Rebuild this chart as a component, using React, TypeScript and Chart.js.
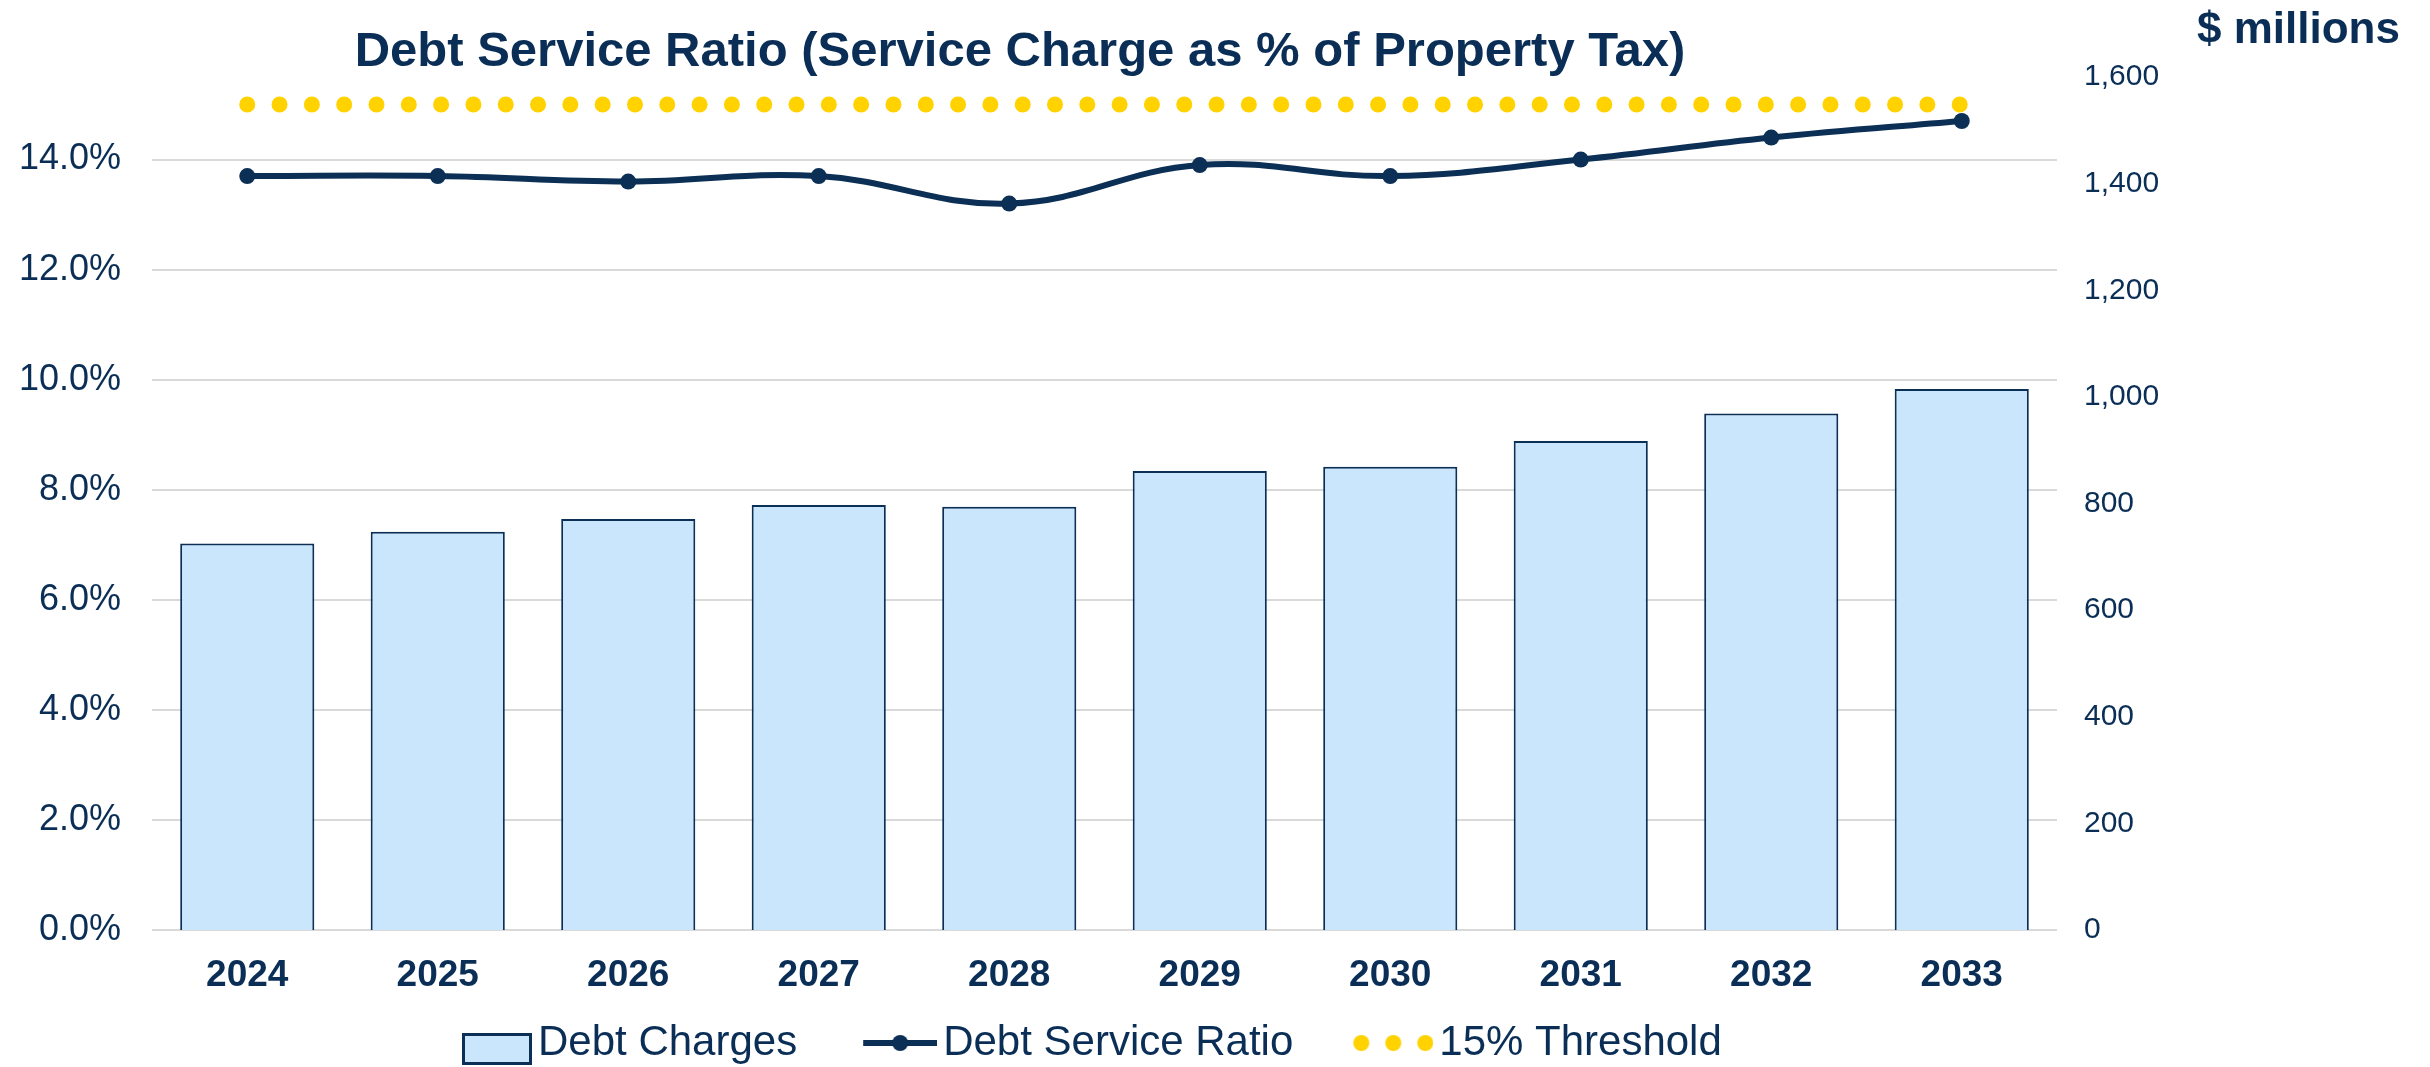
import React, { useEffect, useRef } from 'react';
import { Chart, registerables } from 'chart.js';

Chart.register(...registerables);

// ---------- data ----------
const years = ['2024', '2025', '2026', '2027', '2028', '2029', '2030', '2031', '2032', '2033'];
const debtCharges = [725, 747, 771, 797, 794, 861, 869, 917, 969, 1015];
const debtServiceRatio = [13.7, 13.7, 13.6, 13.7, 13.2, 13.9, 13.7, 14.0, 14.4, 14.7];
const thresholdValues = [15, 15, 15, 15, 15, 15, 15, 15, 15, 15];
const seriesNames = ['Debt Charges', 'Debt Service Ratio', '15% Threshold'];
const titleText = 'Debt Service Ratio (Service Charge as % of Property Tax)';
const rightAxisTitle = '$ millions';
const leftAxisRange = [0, 15.5];
const leftAxisStep = 2;
const rightAxisRange = [0, 1600];
const rightAxisStep = 200;

// ---------- styles ----------
const W = 2430;
const H = 1067;
const FONT = '"Liberation Sans", Arial, Helvetica, sans-serif';
const NAVY = '#0B2F55';
const TEXT = '#0A2E56';
const BAR_FILL = '#C9E6FD';
const GOLD = '#FFD200';
const GRID = '#D9D9D9';

const LEGEND_FONT = 42;
const LEGEND_PAD = 10;
const LEGEND_BOX_W = 115;
const LEGEND_FIRST_TEXT_X = 538;
const LEGEND_TEXT_Y = 1043;
const TITLE_CENTER_X = 1020;

function makeSwatch(kind: string): HTMLCanvasElement {
  const c = document.createElement('canvas');
  const iw = LEGEND_BOX_W + 30;
  c.width = iw;
  c.height = 60;
  const ctx = c.getContext('2d') as CanvasRenderingContext2D;
  if (kind === 'bar') {
    ctx.fillStyle = BAR_FILL;
    ctx.fillRect(iw - 70, 20, 70, 32);
    ctx.strokeStyle = NAVY;
    ctx.lineWidth = 3;
    ctx.strokeRect(iw - 70 + 1.5, 21.5, 67, 29);
  } else if (kind === 'line') {
    ctx.strokeStyle = NAVY;
    ctx.lineWidth = 6;
    ctx.beginPath();
    ctx.moveTo(iw - 74, 30);
    ctx.lineTo(iw, 30);
    ctx.stroke();
    ctx.fillStyle = NAVY;
    ctx.beginPath();
    ctx.arc(iw - 37, 30, 8, 0, Math.PI * 2);
    ctx.fill();
  } else {
    ctx.fillStyle = GOLD;
    for (let i = 0; i < 3; i++) {
      ctx.beginPath();
      ctx.arc(iw - 8 - i * 32, 30, 8, 0, Math.PI * 2);
      ctx.fill();
    }
  }
  return c;
}

const layoutTweaks = {
  id: 'layoutTweaks',
  afterLayout(chart: any) {
    const t = chart.titleBlock;
    if (t) {
      t.left = 0;
      t.right = TITLE_CENTER_X * 2;
      t.width = t.right - t.left;
    }
    const lg = chart.legend;
    if (lg && lg.lineWidths) {
      const cursorX = LEGEND_FIRST_TEXT_X - LEGEND_BOX_W - LEGEND_FONT / 2;
      const lw = lg.lineWidths[0];
      lg.left = 0;
      lg.right = 2 * cursorX - LEGEND_PAD + lw;
      const dy = LEGEND_TEXT_Y - (lg.top + LEGEND_PAD + LEGEND_FONT / 2);
      lg.top += dy;
      lg.bottom += dy;
    }
  },
  afterDraw(chart: any) {
    const ctx = chart.ctx as CanvasRenderingContext2D;
    ctx.save();
    ctx.font = `bold 44px ${FONT}`;
    ctx.fillStyle = TEXT;
    ctx.textAlign = 'left';
    ctx.textBaseline = 'middle';
    ctx.fillText(rightAxisTitle, 2197, 31);
    ctx.restore();
  },
};

export default function App() {
  const ref = useRef<HTMLCanvasElement | null>(null);

  useEffect(() => {
    document.body.style.margin = '0';
    const canvas = ref.current;
    if (!canvas) return;
    const swatches = [makeSwatch('bar'), makeSwatch('line'), makeSwatch('dots')];

    const chart = new Chart(canvas, {
      type: 'bar',
      data: {
        labels: years,
        datasets: [
          {
            type: 'bar',
            label: seriesNames[0],
            data: debtCharges,
            yAxisID: 'y1',
            backgroundColor: BAR_FILL,
            borderColor: NAVY,
            borderWidth: 2,
            barPercentage: 0.704,
            categoryPercentage: 1,
            order: 3,
          } as any,
          {
            type: 'line',
            label: seriesNames[1],
            data: debtServiceRatio,
            yAxisID: 'y',
            borderColor: NAVY,
            backgroundColor: NAVY,
            borderWidth: 6,
            pointRadius: 8,
            pointBorderWidth: 0,
            pointBackgroundColor: NAVY,
            tension: 0.4,
            order: 1,
          } as any,
          {
            type: 'line',
            label: seriesNames[2],
            data: thresholdValues,
            yAxisID: 'y',
            borderColor: GOLD,
            borderWidth: 16,
            borderDash: [0.01, 32.3],
            borderCapStyle: 'round',
            pointRadius: 0,
            tension: 0,
            order: 2,
          } as any,
        ],
      },
      options: {
        responsive: false,
        animation: false,
        devicePixelRatio: 1,
        events: [],
        layout: { padding: 0 },
        plugins: {
          tooltip: { enabled: false },
          title: {
            display: true,
            text: titleText,
            color: TEXT,
            font: { family: FONT, size: 49, weight: 'bold', lineHeight: 1 },
            padding: { top: 27.5, bottom: 0.5 },
          },
          legend: {
            display: true,
            position: 'bottom',
            labels: {
              color: TEXT,
              font: { family: FONT, size: LEGEND_FONT },
              padding: LEGEND_PAD,
              usePointStyle: true,
              pointStyleWidth: LEGEND_BOX_W,
              generateLabels: () =>
                seriesNames.map((name, i) => ({
                  text: name,
                  pointStyle: swatches[i],
                  fillStyle: 'rgba(0,0,0,0)',
                  strokeStyle: 'rgba(0,0,0,0)',
                  lineWidth: 0,
                  hidden: false,
                  datasetIndex: i,
                  fontColor: TEXT,
                })) as any,
            },
          },
        },
        scales: {
          x: {
            type: 'category',
            offset: true,
            grid: { display: false, drawTicks: false },
            border: { display: false },
            ticks: {
              color: TEXT,
              font: { family: FONT, size: 37, weight: 'bold' },
              padding: 24,
              maxRotation: 0,
              autoSkip: false,
            },
            afterFit: (s: any) => {
              s.height = 75;
            },
          },
          y: {
            position: 'left',
            min: leftAxisRange[0],
            max: leftAxisRange[1],
            grid: { color: GRID, lineWidth: 2, drawTicks: false },
            border: { display: false },
            ticks: {
              stepSize: leftAxisStep,
              includeBounds: false,
              color: TEXT,
              font: { family: FONT, size: 36 },
              padding: 31,
              callback: (v: any) => Number(v).toFixed(1) + '%',
            },
            afterFit: (s: any) => {
              s.width = 152;
            },
          },
          y1: {
            position: 'right',
            min: rightAxisRange[0],
            max: rightAxisRange[1],
            grid: { display: false, drawTicks: false },
            border: { display: false },
            ticks: {
              stepSize: rightAxisStep,
              color: TEXT,
              font: { family: FONT, size: 30 },
              padding: 27,
              callback: (v: any) => Number(v).toLocaleString('en-US'),
            },
            afterFit: (s: any) => {
              s.width = 373;
            },
          },
        },
      } as any,
      plugins: [layoutTweaks as any],
    });

    return () => {
      chart.destroy();
    };
  }, []);

  return (
    <div style={{ width: W, height: H, background: '#ffffff' }}>
      <canvas ref={ref} width={W} height={H} style={{ width: W, height: H, display: 'block' }} />
    </div>
  );
}
